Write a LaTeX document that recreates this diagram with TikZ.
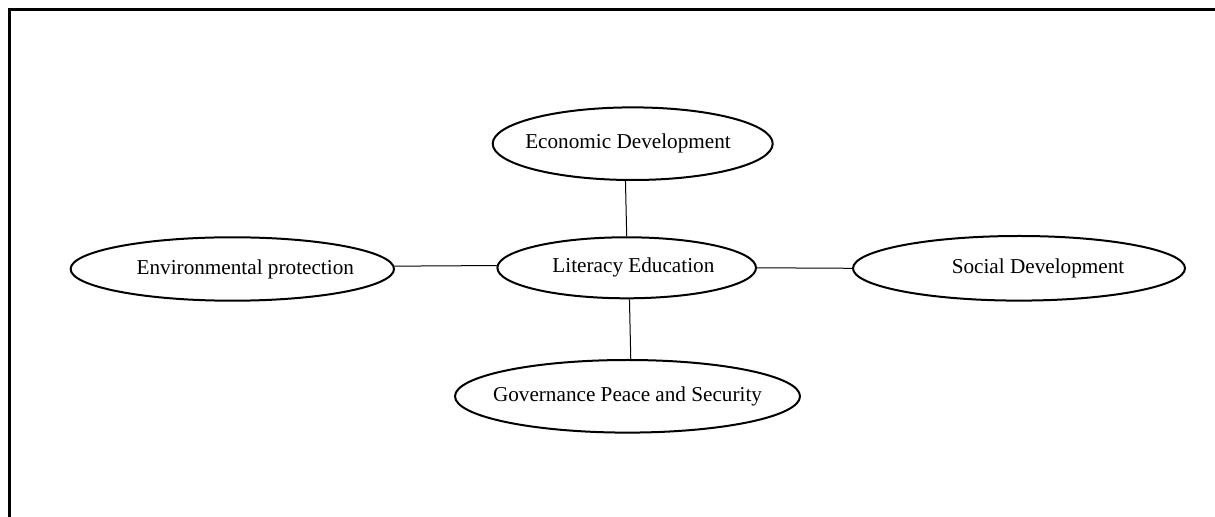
\documentclass[tikz,border=0pt]{standalone}
\usepackage{fontspec}
\setmainfont{Liberation Serif}
\usepackage{tikz}
\usetikzlibrary{shapes.geometric}

\newcommand{\goaltext}[1]{\makebox[0pt]{#1}}

\begin{document}
\begin{tikzpicture}[x=0.5pt,y=-0.5pt,
	goal/.style={draw,ellipse,line width=1pt,inner sep=0pt,font=\fontsize{10.6}{12.7}\selectfont},
	link/.style={line width=0.5pt}]
	\useasboundingbox (0,0) rectangle (1215,517);
	\draw[line width=1.25pt] (9.5,517) |- (1215,9.5);
	\node[goal,minimum width=129.3pt,minimum height=30.5pt] (lit) at (626.7,267.8) {\goaltext{\hspace*{6.7pt}Literacy Education}};
	\node[goal,minimum width=140pt,minimum height=36.3pt] (econ) at (632.7,143.7) {\goaltext{Economic Development\hspace*{4.7pt}}};
	\node[goal,minimum width=161.7pt,minimum height=31.7pt] (env) at (232.3,269) {\goaltext{\hspace*{13pt}Environmental protection}};
	\node[goal,minimum width=166pt,minimum height=32.3pt] (soc) at (1019,268.3) {\goaltext{\hspace*{19pt}Social Development}};
	\node[goal,minimum width=172.5pt,minimum height=36.3pt] (gov) at (627.5,396.3) {\goaltext{Governance Peace and Security}};
	\draw[link] (econ.259) -- (lit.north);
	\draw[link] (env.1) -- (lit.179);
	\draw[link] (lit.east) -- (soc.west);
	\draw[link] (lit.275) -- (gov.85);
\end{tikzpicture}
\end{document}
